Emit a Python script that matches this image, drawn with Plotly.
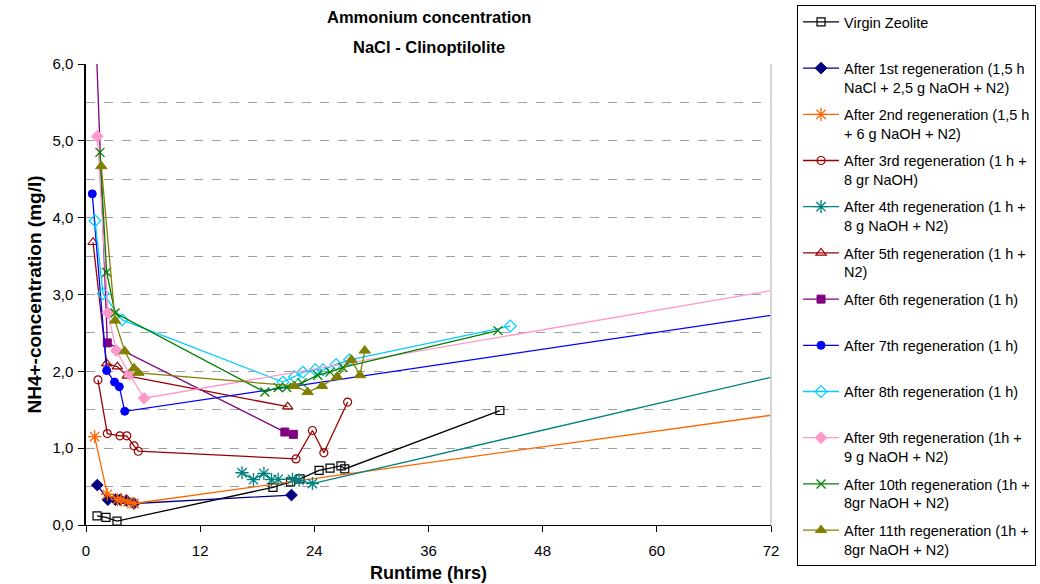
import plotly.graph_objects as go

# ---------------- data ----------------
virgin_x = [1.16, 2.1, 3.26, 19.65, 21.5, 22.5, 24.5, 25.65, 26.8, 27.2, 43.5]
virgin_y = [0.12, 0.10, 0.05, 0.49, 0.56, 0.60, 0.71, 0.74, 0.77, 0.73, 1.49]

r1_x = [1.19, 2.3, 3.1, 3.6, 4.24, 5.05, 21.6]
r1_y = [0.52, 0.33, 0.33, 0.33, 0.32, 0.28, 0.39]

r2_x = [0.91, 2.24, 3.3, 3.7, 4.4, 5.05, 96.0]
r2_y = [1.15, 0.40, 0.33, 0.33, 0.30, 0.28, 1.84]

r3_x = [1.26, 2.24, 3.57, 4.28, 5.05, 5.5, 22.07, 23.8, 25.0, 27.5]
r3_y = [1.89, 1.19, 1.16, 1.16, 1.03, 0.96, 0.86, 1.23, 0.94, 1.60]

r4_x = [16.4, 17.6, 18.7, 19.5, 20.2, 21.7, 22.4, 23.8, 96.0]
r4_y = [0.68, 0.59, 0.67, 0.59, 0.595, 0.595, 0.585, 0.54, 2.61]

r5_x = [0.74, 2.17, 3.3, 4.34, 21.2]
r5_y = [3.68, 2.10, 2.06, 1.94, 1.54]

r6_x = [1.0, 2.24, 20.9, 21.8]
r6_y = [6.5, 2.37, 1.21, 1.18]

r7_x = [0.66, 2.17, 3.0, 3.5, 4.07, 96.0]
r7_y = [4.31, 2.01, 1.86, 1.80, 1.48, 3.17]

r8_x = [0.95, 1.79, 3.8, 20.7, 21.9, 22.8, 24.1, 24.9, 26.3, 27.7, 44.6]
r8_y = [3.96, 3.01, 2.67, 1.86, 1.93, 1.99, 2.02, 2.02, 2.09, 2.15, 2.59]

r9_x = [1.19, 2.31, 3.19, 4.59, 6.1, 96.0]
r9_y = [5.06, 2.76, 2.27, 1.96, 1.65, 3.56]

r10_x = [1.47, 2.17, 3.05, 18.8, 20.2, 21.1, 22.7, 24.35, 25.65, 27.0, 43.3]
r10_y = [4.85, 3.29, 2.76, 1.73, 1.79, 1.79, 1.85, 1.95, 1.99, 2.05, 2.53]

r11_x = [1.61, 3.05, 4.07, 5.05, 5.5, 21.9, 23.3, 24.8, 26.4, 27.9, 28.8, 29.3]
r11_y = [4.67, 2.66, 2.26, 2.04, 1.98, 1.81, 1.73, 1.81, 1.93, 2.15, 1.95, 2.27]

names = [
    "Virgin Zeolite<br> ",
    "After 1st regeneration (1,5 h<br>NaCl + 2,5 g NaOH + N2)",
    "After 2nd regeneration (1,5 h<br>+ 6 g NaOH + N2)",
    "After 3rd regeneration (1 h +<br>8 gr NaOH)",
    "After 4th regeneration (1 h +<br>8 g NaOH + N2)",
    "After 5th regeneration (1 h +<br>N2)",
    "After 6th regeneration (1 h)<br> ",
    "After 7th regeneration (1 h)<br> ",
    "After 8th regeneration (1 h)<br> ",
    "After 9th regeneration (1h +<br>9 g NaOH + N2)",
    "After 10th regeneration (1h +<br>8gr NaOH + N2)",
    "After 11th regeneration (1h +<br>8gr NaOH + N2)",
]

x_ticks = [0, 12, 24, 36, 48, 60, 72]
y_ticks = [0, 1, 2, 3, 4, 5, 6]
y_ticktext = ["0,0", "1,0", "2,0", "3,0", "4,0", "5,0", "6,0"]

# ---------------- styles ----------------
series = [
    (virgin_x, virgin_y, "#000000", "square-open", 8, 1.2),
    (r1_x, r1_y, "#000080", "diamond", 9, 1),
    (r2_x, r2_y, "#FF6600", "asterisk-open", 11, 1.3),
    (r3_x, r3_y, "#990000", "circle-open", 8, 1.2),
    (r4_x, r4_y, "#008080", "asterisk-open", 11, 1.3),
    (r5_x, r5_y, "#990000", "triangle-up-open", 9, 1.2),
    (r6_x, r6_y, "#800080", "square", 8, 1),
    (r7_x, r7_y, "#0000FF", "circle", 8, 1),
    (r8_x, r8_y, "#00CCFF", "diamond-open", 9, 1.2),
    (r9_x, r9_y, "#FF99CC", "diamond", 9, 1),
    (r10_x, r10_y, "#008000", "x-thin-open", 9, 1.3),
    (r11_x, r11_y, "#808000", "triangle-up", 10, 1),
]

fig = go.Figure()
for (xs, ys, col, sym, size, lw), name in zip(series, names):
    fig.add_trace(go.Scatter(
        x=xs, y=ys, name=name, mode="lines+markers",
        line=dict(color=col, width=1.3),
        marker=dict(symbol=sym, size=size, color=col,
                    line=dict(color=col, width=lw)),
        legendgroup=name,
    ))

font_family = "Arial, Liberation Sans, sans-serif"

fig.update_layout(
    width=1040, height=584,
    margin=dict(l=86, r=269, t=64, b=59, autoexpand=False),
    paper_bgcolor="white", plot_bgcolor="white",
    font=dict(family=font_family, color="black"),
    showlegend=True,
    legend=dict(
        x=1.038, xanchor="left", y=1.128, yanchor="top",
        bordercolor="black", borderwidth=1,
        font=dict(size=14.5, family=font_family, color="black"),
        tracegroupgap=5.5, valign="top",
        itemwidth=36, maxheight=580,
    ),
    xaxis=dict(
        range=[0, 72], tickvals=x_ticks, ticktext=[str(v) for v in x_ticks],
        showgrid=False, zeroline=False,
        showline=True, linecolor="black", linewidth=1.2,
        ticks="outside", ticklen=6, tickcolor="black",
        tickfont=dict(size=15), ticklabelstandoff=6,
        title=dict(text="<b>Runtime (hrs)</b>", font=dict(size=18), standoff=8),
    ),
    yaxis=dict(
        range=[0, 6], tickvals=y_ticks, ticktext=y_ticktext,
        showgrid=True, gridcolor="#A0A0A0", griddash="dash", gridwidth=1,
        minor=dict(dtick=0.5, showgrid=True, gridcolor="#A0A0A0", griddash="dash", gridwidth=1),
        zeroline=False,
        showline=True, linecolor="black", linewidth=1.5,
        ticks="outside", ticklen=6, tickcolor="black",
        tickfont=dict(size=15), ticklabelstandoff=2,
        title=dict(text="<b>NH4+-concentration (mg/l)</b>", font=dict(size=19), standoff=6),
    ),
    shapes=[dict(type="line", xref="paper", yref="paper", x0=1, x1=1, y0=0, y1=1,
                 line=dict(color="#C8C8C8", width=1.5))],
    annotations=[
        dict(text="<b>Ammonium concentration</b>", xref="paper", yref="paper",
             x=0.5, y=1.102, xanchor="center", yanchor="middle", showarrow=False,
             font=dict(size=16.5)),
        dict(text="<b>NaCl - Clinoptilolite</b>", xref="paper", yref="paper",
             x=0.5, y=1.037, xanchor="center", yanchor="middle", showarrow=False,
             font=dict(size=16.5)),
    ],
)

fig.write_html("out.html", config={"displayModeBar": False},
               post_script="document.body.style.margin='0px';")
